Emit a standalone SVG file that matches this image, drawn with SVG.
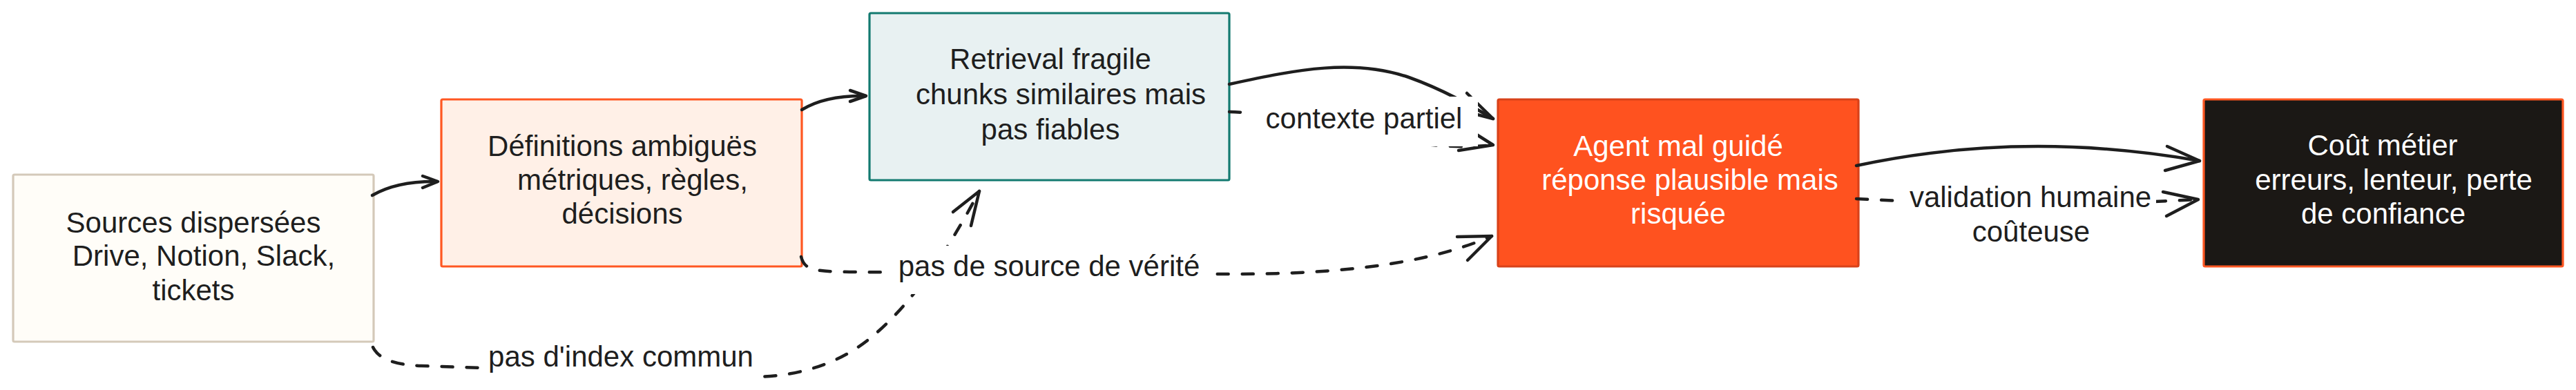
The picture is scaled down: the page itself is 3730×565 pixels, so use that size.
<svg xmlns="http://www.w3.org/2000/svg" width="3730" height="565" viewBox="0 0 3730 565">
<style>
  .node { stroke-width: 3.2; }
  .t { font-family: "Liberation Sans", Arial, sans-serif; font-size: 42px; text-anchor: middle; fill: #1e1e1e; }
  .tw { fill: #ffffff; }
  .edge { fill: none; stroke: #1e1e1e; stroke-width: 4.5; stroke-linecap: round; stroke-linejoin: round; }
  .dash { stroke-dasharray: 16 20; }
  .head { fill: none; stroke: #1e1e1e; stroke-width: 4.5; stroke-linecap: round; stroke-linejoin: round; }
  .lbg { fill: #ffffff; stroke: none; }
</style>
<rect x="0" y="0" width="3730" height="565" fill="#ffffff"/>

<g id="node-sources">
  <rect class="node" x="19" y="253" width="522" height="242" rx="2" fill="#fffdf8" stroke="#d4c9b9"/>
  <text class="t" x="280" y="337">Sources dispersées</text>
  <text class="t" x="295" y="385">Drive, Notion, Slack,</text>
  <text class="t" x="280" y="435">tickets</text>
</g>

<g id="node-definitions">
  <rect class="node" x="639" y="144" width="522" height="242" rx="2" fill="#fff0e7" stroke="#ff5722"/>
  <text class="t" x="901" y="226">Définitions ambiguës</text>
  <text class="t" x="916" y="275">métriques, règles,</text>
  <text class="t" x="901" y="324">décisions</text>
</g>

<g id="node-retrieval">
  <rect class="node" x="1259" y="19" width="521" height="242" rx="2" fill="#e8f1f2" stroke="#137a70"/>
  <text class="t" x="1521" y="100">Retrieval fragile</text>
  <text class="t" x="1536" y="151">chunks similaires mais</text>
  <text class="t" x="1521" y="202">pas fiables</text>
</g>

<g id="node-agent">
  <rect class="node" x="2169" y="144" width="522" height="242" rx="2" fill="#ff521f" stroke="#d8421a"/>
  <text class="t tw" x="2430" y="226">Agent mal guidé</text>
  <text class="t tw" x="2447" y="275">réponse plausible mais</text>
  <text class="t tw" x="2430" y="324">risquée</text>
</g>

<g id="node-cout">
  <rect class="node" x="3191" y="144" width="520" height="242" rx="2" fill="#1b1815" stroke="#ff5722"/>
  <text class="t tw" x="3450" y="225">Coût métier</text>
  <text class="t tw" x="3466" y="275">erreurs, lenteur, perte</text>
  <text class="t tw" x="3451" y="324">de confiance</text>
</g>

<g id="connectors">
  <!-- Sources -> Définitions -->
  <path class="edge" d="M539,283 Q575,262 633,263"/>
  <path class="head" d="M612,255 L634,263 L612,272"/>
  <!-- Définitions -> Retrieval -->
  <path class="edge" d="M1161,159 Q1195,138 1253,139"/>
  <path class="head" d="M1231,131 L1254,139 L1231,147"/>
  <!-- Retrieval -> Agent (solid) -->
  <path class="edge" d="M1780,122 C1880,100 1960,85 2040,112 C2090,130 2130,153 2162,172"/>
  <path class="head" d="M2124,135 L2162,172 L2116,160"/>
  <!-- Retrieval -> Agent (dashed, contexte partiel) -->
  <path class="edge dash" d="M1780,162 C1900,165 2040,225 2162,210"/>
  <path class="head" d="M2124,186 L2162,210 L2112,218"/>
  <!-- Sources -> Retrieval (dashed, pas d'index commun) -->
  <path class="edge dash" d="M540,503 Q552,528 610,530 L1050,545 Q1180,555 1260,490 Q1340,425 1418,277"/>
  <path class="head" d="M1380,307 L1418,277 L1406,327"/>
  <!-- Définitions -> Agent (dashed, pas de source de vérité) -->
  <path class="edge dash" d="M1160,372 C1165,392 1180,393 1230,394 L1760,397 C1900,398 2050,390 2160,342"/>
  <path class="head" d="M2110,343 L2160,342 L2125,377"/>
  <!-- Agent -> Coût (solid) -->
  <path class="edge" d="M2688,240 Q2930,188 3185,233"/>
  <path class="head" d="M3138,212 L3185,233 L3135,247"/>
  <!-- Agent -> Coût (dashed, validation humaine coûteuse) -->
  <path class="edge dash" d="M2688,288 Q2940,302 3183,289"/>
  <path class="head" d="M3132,278 L3183,289 L3137,313"/>

  <!-- labels -->
  <g id="label-contexte">
    <rect class="lbg" x="1806" y="140" width="334" height="72"/>
    <text class="t" x="1975" y="186">contexte partiel</text>
  </g>
  <g id="label-verite">
    <rect class="lbg" x="1282" y="356" width="476" height="70"/>
    <text class="t" x="1519" y="400">pas de source de vérité</text>
  </g>
  <g id="label-index">
    <rect class="lbg" x="702" y="490" width="394" height="66"/>
    <text class="t" x="899" y="531">pas d'index commun</text>
  </g>
  <g id="label-validation">
    <rect class="lbg" x="2752" y="262" width="370" height="100"/>
    <text class="t" x="2940" y="300">validation humaine</text>
    <text class="t" x="2941" y="350">coûteuse</text>
  </g>
</g>
</svg>
